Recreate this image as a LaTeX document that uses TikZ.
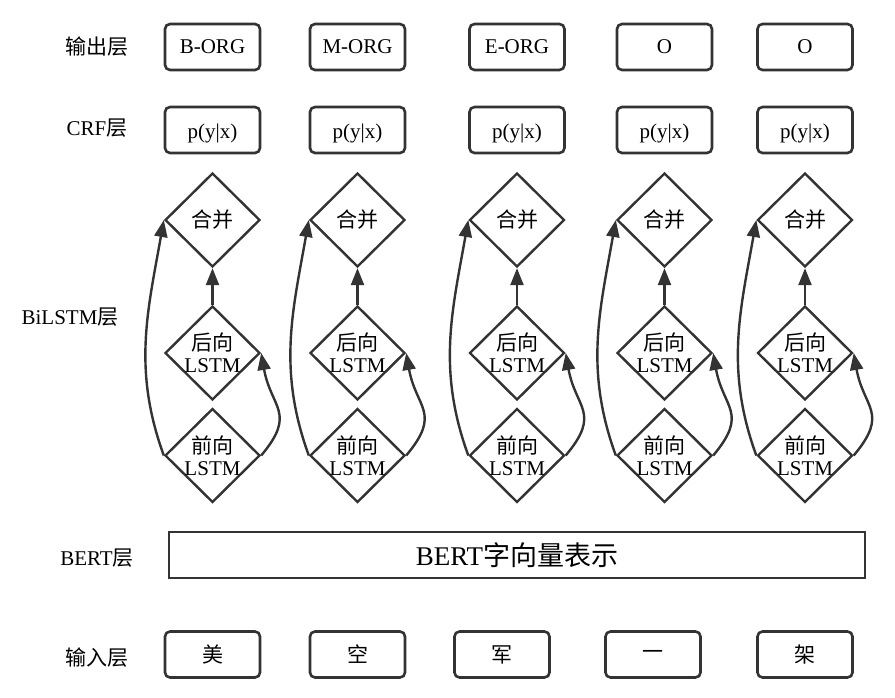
\documentclass[tikz,border=0pt]{standalone}
\usepackage{fontspec}
\setmainfont{Liberation Serif}
\newfontfamily\zh{Noto Sans CJK SC}
\usetikzlibrary{shapes.geometric,arrows.meta}
\colorlet{ln}{black!80}

\begin{document}
\begin{tikzpicture}[x=0.5pt,y=0.5pt,
  box/.style={draw=ln,rounded corners=2.5pt,line width=1.3pt,minimum width=47.5pt,minimum height=23pt,inner sep=0pt},
  crf/.style={box,text height=11.5pt,text depth=2.5pt},
  dia/.style={draw=ln,diamond,aspect=1,line width=1.2pt,minimum width=47.5pt,minimum height=47pt,inner sep=0pt},
  arr/.style={draw=ln,line width=1.2pt,-{Triangle[width=6.5pt,length=8.5pt]}}]
\fontsize{10.5}{11}\selectfont
\useasboundingbox (0,0) rectangle (895,697);

% layer names
\node (LO) at (97,650) {\zh 输出层};
\node (LC) at (97,569) {CRF{\zh 层}};
\node (LL) at (70,380) {BiLSTM{\zh 层}};
\node (LB) at (97,139) {BERT{\zh 层}};
\node (LI) at (97,39) {\zh 输入层};

% output and CRF
\node[box] (O1) at (212.5,650) {B-ORG};
\node[box] (O2) at (357.5,650) {M-ORG};
\node[box] (O3) at (517,650) {E-ORG};
\node[box] (O4) at (664.5,650) {O};
\node[box] (O5) at (805,650) {O};
\node[crf] (C1) at (212.5,567) {p(y|x)};
\node[crf] (C2) at (357.5,567) {p(y|x)};
\node[crf] (C3) at (517,567) {p(y|x)};
\node[crf] (C4) at (664.5,567) {p(y|x)};
\node[crf] (C5) at (805,567) {p(y|x)};

% BiLSTM: forward F, backward H, merge M
\foreach \i/\x in {1/212.5,2/357.5,3/517,4/664.5,5/805}{
  \node[dia] (M\i) at (\x,477) {};
  \node[dia] (H\i) at (\x,344) {};
  \node[dia] (F\i) at (\x,241.5) {};
  \node at (M\i) {\zh 合并};
  \node[align=center] at (H\i) {{\zh 后向}\\LSTM};
  \node[align=center] at (F\i) {{\zh 前向}\\LSTM};
  \draw[arr] (H\i.north) -- (M\i.south);
  \draw[arr] (F\i.west) to[out=110,in=-100] (M\i.west);
  \draw[arr] (F\i.east) to[out=50,in=-80,looseness=1.4] (H\i.east);
}

% BERT and input
\node[draw=ln,line width=1.3pt,minimum width=348pt,minimum height=23pt,inner sep=0pt] (B) at (517,142) {\fontsize{13.5}{13.5}\selectfont BERT{\zh 字向量表示}};
\node[box] (I1) at (212.5,42.5) {\zh 美};
\node[box] (I2) at (357.5,42.5) {\zh 空};
\node[box] (I3) at (502,42.5) {\zh 军};
\node[box] (I4) at (653,42.5) {\zh 一};
\node[box] (I5) at (805,42.5) {\zh 架};

\end{tikzpicture}
\end{document}
